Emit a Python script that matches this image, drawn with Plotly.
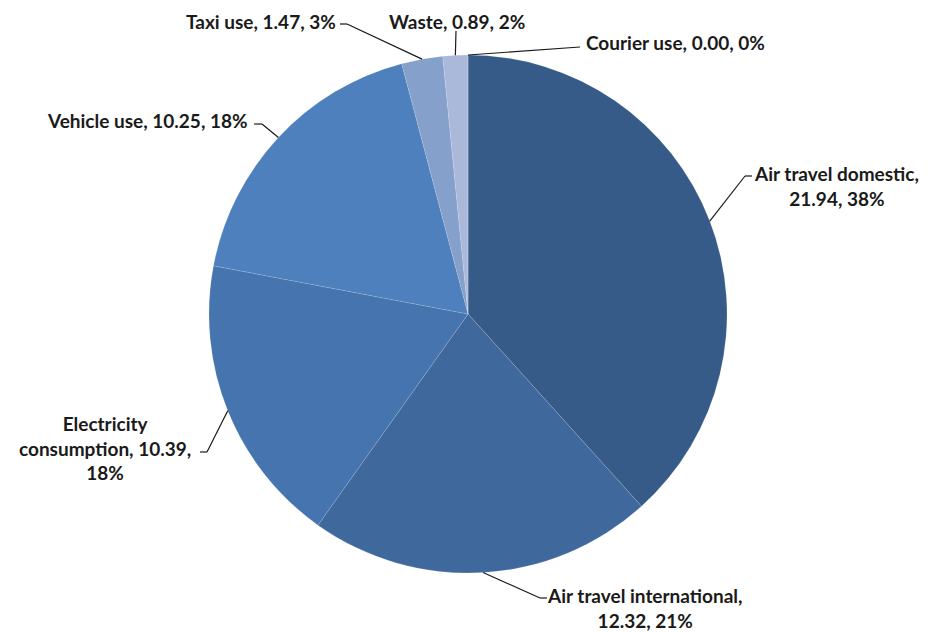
import math
import plotly.graph_objects as go

categories = ["Air travel domestic", "Air travel international", "Electricity consumption",
              "Vehicle use", "Taxi use", "Waste", "Courier use"]
values = [21.94, 12.32, 10.39, 10.25, 1.47, 0.89, 0.00]
percents = ["38%", "21%", "18%", "18%", "3%", "2%", "0%"]
colors = ["#375b88", "#3f689c", "#4574ae", "#4d80bd", "#86a0cc", "#aab9da", "#c5d0e6"]

# page body has an 8px margin: the figure is drawn offset by (8, 8)
OFF = 8
W, H = 920, 624
CX, CY, R = 468, 314, 259  # in page pixels

label_text = [
    "Air travel domestic,<br>21.94, 38%",
    "Air travel international,<br>12.32, 21%",
    "Electricity<br>consumption, 10.39,<br>18%",
    "Vehicle use, 10.25, 18%",
    "Taxi use, 1.47, 3%",
    "Waste, 0.89, 2%",
    "Courier use, 0.00, 0%",
]
label_pos = [  # page pixels (x, y, xanchor, yanchor)
    (836, 186, "center", "middle"),
    (645, 608, "center", "middle"),
    (105, 448, "center", "middle"),
    (250, 120, "right", "middle"),
    (338, 21, "right", "middle"),
    (457, 21, "center", "middle"),
    (584, 42, "left", "middle"),
]
elbows = [
    [(745, 176), (752, 176)],
    [(540, 598), (547, 598)],
    [(207, 452), (200, 452)],
    [(262, 124), (254, 124)],
    [(347, 24), (340, 24)],
    [(456, 31)],
    [(580, 47)],
]

def px(x):
    return (x - OFF) / W

def py(y):
    return 1 - (y - OFF) / H

fig = go.Figure(go.Pie(
    labels=categories,
    values=values,
    sort=False,
    direction="clockwise",
    rotation=0,
    marker=dict(colors=colors, line=dict(color="rgba(255,255,255,0.25)", width=0.5)),
    textinfo="none",
    hoverinfo="label+value+percent",
    domain=dict(x=[px(CX - R), px(CX + R)], y=[py(CY + R), py(CY - R)]),
    showlegend=False,
))

total = sum(values)
cum = 0.0
shapes = []
annotations = []
for i, v in enumerate(values):
    mid = (cum + v / 2) / total * 2 * math.pi
    cum += v
    tx = CX + R * math.sin(mid)
    ty = CY - R * math.cos(mid)
    pts = [(tx, ty)] + elbows[i]
    for (x0, y0), (x1, y1) in zip(pts[:-1], pts[1:]):
        shapes.append(dict(type="line", xref="paper", yref="paper",
                           x0=px(x0), y0=py(y0), x1=px(x1), y1=py(y1),
                           line=dict(color="#1a1a1a", width=1.2)))
    lx, ly, xa, ya = label_pos[i]
    annotations.append(dict(x=px(lx), y=py(ly), xref="paper", yref="paper",
                            text=label_text[i], showarrow=False,
                            xanchor=xa, yanchor=ya, align="center",
                            font=dict(family="Lato", size=19, color="#1a1a1a", weight="bold")))

fig.update_layout(
    width=W, height=H,
    margin=dict(l=0, r=0, t=0, b=0),
    paper_bgcolor="white",
    plot_bgcolor="white",
    shapes=shapes,
    annotations=annotations,
)

fig.write_html("out.html")
